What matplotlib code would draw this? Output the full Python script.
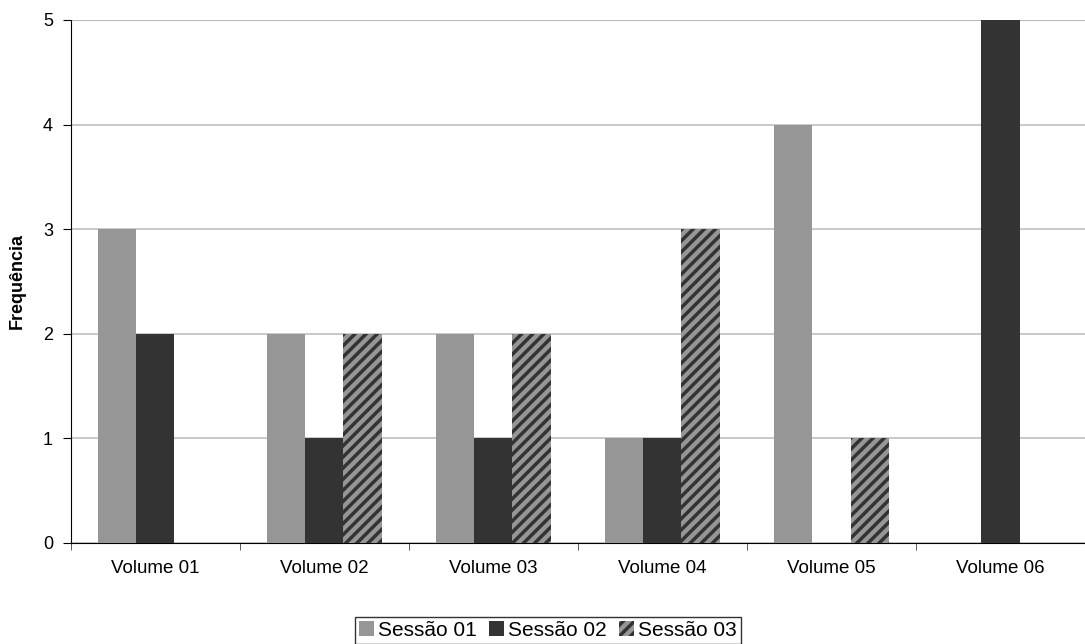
import matplotlib.pyplot as plt
import numpy as np

plt.rcParams["font.family"] = ["Liberation Sans", "DejaVu Sans"]
plt.rcParams["hatch.linewidth"] = 2.5

volumes = ["Volume 01", "Volume 02", "Volume 03", "Volume 04", "Volume 05", "Volume 06"]
sessao_01 = [3, 2, 2, 1, 4, 0]
sessao_02 = [2, 1, 1, 1, 0, 5]
sessao_03 = [0, 2, 2, 3, 1, 0]
series_labels = ["Sessão 01", "Sessão 02", "Sessão 03"]

fig = plt.figure(figsize=(10.85, 6.44), dpi=100)
ax = fig.add_axes([0.0654, 0.157, 0.9346, 0.812])

x = np.arange(len(volumes))
w = 0.225
ax.bar(x - w, sessao_01, w, color="#969696", label=series_labels[0], zorder=3)
ax.bar(x, sessao_02, w, color="#333333", label=series_labels[1], zorder=3)
ax.bar(x + w, sessao_03, w, color="#969696", edgecolor="#333333", hatch="///",
       linewidth=0, label=series_labels[2], zorder=3)

ax.set_xlim(-0.5, len(volumes) - 0.5)
ax.set_ylim(0, 5)
ax.set_yticks(range(6))
ax.set_xticks(x)
ax.set_xticklabels(volumes, fontsize=13.5)
ax.set_xticks(np.arange(-0.5, len(volumes) + 0.5, 1), minor=True)
ax.tick_params(axis="x", which="major", length=0, pad=12)
ax.tick_params(axis="x", which="minor", length=5, color="#404040")
ax.tick_params(axis="y", labelsize=13, length=6, direction="out", pad=7)

ax.yaxis.grid(True, color="#c0c0c0", linewidth=1.2, zorder=0)
ax.spines["top"].set_visible(False)
ax.spines["right"].set_visible(False)
ax.axhline(5, color="#a0a0a0", linewidth=1.5, zorder=1)

ax.set_ylabel("Frequência", fontsize=13, fontweight="bold", labelpad=12)

leg = fig.legend(loc="lower center", bbox_to_anchor=(0.505, 0.0), ncol=3, fontsize=15,
                 frameon=True, fancybox=False, edgecolor="black", handlelength=0.7,
                 handleheight=0.7, handletextpad=0.2, columnspacing=0.6,
                 borderpad=0.2, borderaxespad=0)
leg.get_frame().set_linewidth(1)

fig.savefig("out.png", dpi=100)
